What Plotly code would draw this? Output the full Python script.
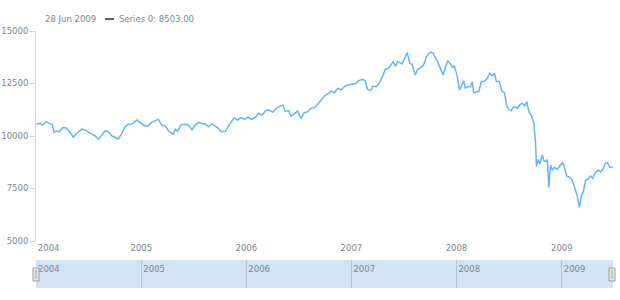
import plotly.graph_objects as go

dates = [
    "2004-01-02", "2004-01-15", "2004-01-24", "2004-02-05", "2004-02-16", "2004-02-26",
    "2004-03-04", "2004-03-13", "2004-03-22", "2004-04-03", "2004-04-14", "2004-04-26",
    "2004-05-10", "2004-05-22", "2004-06-08", "2004-06-19", "2004-07-01", "2004-07-13",
    "2004-07-24", "2004-08-05", "2004-08-17", "2004-08-28", "2004-09-09", "2004-09-20",
    "2004-10-02", "2004-10-13", "2004-10-25", "2004-11-06", "2004-11-17", "2004-11-29",
    "2004-12-16", "2004-12-28", "2005-01-14", "2005-01-26", "2005-02-06", "2005-02-24",
    "2005-03-01", "2005-03-13", "2005-03-25", "2005-04-05", "2005-04-21", "2005-04-29",
    "2005-05-07", "2005-05-18", "2005-06-02", "2005-06-14", "2005-06-26", "2005-07-07",
    "2005-07-19", "2005-07-30", "2005-08-11", "2005-08-22", "2005-09-03", "2005-09-15",
    "2005-09-26", "2005-10-04", "2005-10-19", "2005-11-06", "2005-11-20", "2005-12-01",
    "2005-12-13", "2005-12-25", "2006-01-05", "2006-01-20", "2006-02-04", "2006-02-12",
    "2006-02-24", "2006-03-11", "2006-03-23", "2006-04-03", "2006-04-15", "2006-04-26",
    "2006-05-08", "2006-05-16", "2006-05-28", "2006-06-05", "2006-06-16", "2006-06-28",
    "2006-07-10", "2006-07-21", "2006-08-02", "2006-08-14", "2006-08-25", "2006-09-06",
    "2006-09-21", "2006-10-02", "2006-10-14", "2006-10-22", "2006-11-03", "2006-11-14",
    "2006-11-26", "2006-12-11", "2006-12-22", "2007-01-07", "2007-01-18", "2007-01-26",
    "2007-02-10", "2007-02-18", "2007-02-26", "2007-03-10", "2007-03-17", "2007-03-29",
    "2007-04-09", "2007-04-21", "2007-04-29", "2007-05-10", "2007-05-19", "2007-05-26",
    "2007-06-03", "2007-06-11", "2007-06-26", "2007-07-08", "2007-07-14", "2007-07-23",
    "2007-07-31", "2007-08-11", "2007-08-19", "2007-08-31", "2007-09-09", "2007-09-19",
    "2007-09-27", "2007-10-05", "2007-10-12", "2007-10-20", "2007-10-28", "2007-11-06",
    "2007-11-16", "2007-11-24", "2007-12-02", "2007-12-11", "2007-12-19", "2007-12-25",
    "2008-01-03", "2008-01-12", "2008-01-21", "2008-01-26", "2008-02-01", "2008-02-09",
    "2008-02-19", "2008-02-25", "2008-03-01", "2008-03-11", "2008-03-19", "2008-03-27",
    "2008-04-07", "2008-04-17", "2008-04-26", "2008-05-04", "2008-05-12", "2008-05-19",
    "2008-05-29", "2008-06-08", "2008-06-16", "2008-06-23", "2008-07-01", "2008-07-09",
    "2008-07-18", "2008-07-30", "2008-08-08", "2008-08-17", "2008-08-25", "2008-09-01",
    "2008-09-09", "2008-09-17", "2008-09-26", "2008-10-02", "2008-10-05", "2008-10-11",
    "2008-10-17", "2008-10-25", "2008-10-31", "2008-11-06", "2008-11-12", "2008-11-17",
    "2008-11-23", "2008-11-29", "2008-12-07", "2008-12-16", "2008-12-25", "2009-01-03",
    "2009-01-08", "2009-01-18", "2009-01-29", "2009-02-06", "2009-02-14", "2009-02-24",
    "2009-03-03", "2009-03-10", "2009-03-17", "2009-03-25", "2009-04-02", "2009-04-11",
    "2009-04-18", "2009-04-25", "2009-05-07", "2009-05-16", "2009-05-24", "2009-06-01",
    "2009-06-09", "2009-06-18", "2009-06-28",
]
values = [
    10570, 10600, 10520, 10680, 10600, 10560,
    10180, 10240, 10200, 10400, 10380, 10210,
    9940, 10130, 10330, 10290, 10180, 10080,
    10010, 9840, 10050, 10240, 10200, 10010,
    9940, 9860, 10130, 10440, 10560, 10560,
    10760, 10650, 10480, 10500, 10650, 10760,
    10795, 10520, 10480, 10250, 10080, 10320,
    10210, 10520, 10560, 10520, 10290, 10520,
    10650, 10600, 10570, 10440, 10570, 10470,
    10365, 10210, 10210, 10600, 10870, 10760,
    10870, 10795, 10890, 10795, 10920, 11080,
    11000, 11240, 11210, 11130, 11320, 11400,
    11480, 11160, 11220, 10950, 11040, 11190,
    10840, 11110, 11160, 11320, 11350, 11510,
    11750, 11950, 12030, 12140, 12060, 12270,
    12200, 12380, 12430, 12480, 12510, 12630,
    12700, 12630, 12220, 12160, 12380, 12350,
    12540, 12900, 13180, 13220, 13430, 13540,
    13330, 13540, 13430, 13810, 13970, 13460,
    13410, 12900, 13180, 13270, 13380, 13780,
    13940, 14000, 13940, 13700, 13540, 13220,
    12900, 13270, 13590, 13430, 13270, 13330,
    12900, 12190, 12430, 12630, 12270, 12350,
    12350, 12590, 12060, 12110, 12110, 12590,
    12590, 12750, 12990, 12860, 12990, 12590,
    12590, 12110, 12060, 11480, 11270, 11200,
    11400, 11320, 11480, 11560, 11430, 11630,
    11160, 11000, 10600, 9650, 8540, 8890,
    8670, 9100, 8820, 8780, 8880, 7540,
    8620, 8380, 8510, 8410, 8570, 8730,
    8620, 8100, 8030, 7900, 7590, 7140,
    6600, 7140, 7350, 7900, 7940, 8100,
    7980, 8190, 8380, 8300, 8410, 8700,
    8730, 8510, 8503,
]

y_ticks = [5000, 7500, 10000, 12500, 15000]
y_tick_labels = ["5000", "7500", "10000", "12500", "15000"]
x_tick_dates = ["2004-02-14", "2005-01-01", "2006-01-01", "2007-01-01", "2008-01-01", "2009-01-01"]
x_tick_labels = ["2004", "2005", "2006", "2007", "2008", "2009"]
scroll_tick_dates = ["2004-01-01", "2005-01-01", "2006-01-01", "2007-01-01", "2008-01-01", "2009-01-01"]
header_date = "28 Jun 2009"
series_name = "Series 0"
x_range = ["2004-01-01", "2009-06-28"]

W, H = 620, 300
FONT = "DejaVu Sans"
TXT = "#7c868e"

def px(x):
    return x / W

def py(y):
    return (H - y) / H

fig = go.Figure()
fig.add_trace(go.Scatter(
    x=dates, y=values, mode="lines",
    line=dict(color="#64b5f6", width=1.5),
    hoverinfo="skip", showlegend=False,
))
fig.add_trace(go.Scatter(
    x=[dates[0], dates[-1]], y=[0, 0], mode="lines",
    line=dict(color="rgba(0,0,0,0)", width=0),
    xaxis="x2", yaxis="y2", hoverinfo="skip", showlegend=False,
))

fig.update_layout(
    template="none",
    width=W, height=H,
    margin=dict(l=0, r=0, t=0, b=0, pad=0),
    paper_bgcolor="white", plot_bgcolor="white",
    font=dict(family=FONT, size=8.5, color=TXT),
    xaxis=dict(
        domain=[px(36), px(613)], range=x_range, type="date",
        showgrid=False, zeroline=False, showline=False, ticks="",
        tickmode="array", tickvals=x_tick_dates, ticktext=x_tick_labels,
        tickfont=dict(family=FONT, size=8.5, color=TXT),
        anchor="y", automargin=False,
    ),
    yaxis=dict(
        domain=[py(241), py(31)], range=[5000, 15000],
        showgrid=False, zeroline=False,
        showline=True, linecolor="#cfd3d6", linewidth=1,
        ticks="outside", ticklen=5, tickcolor="#cfd3d6",
        tickmode="array", tickvals=y_ticks, ticktext=y_tick_labels,
        tickfont=dict(family=FONT, size=8.5, color=TXT),
        anchor="x", automargin=False,
    ),
    xaxis2=dict(
        domain=[px(36), px(613)], range=x_range, type="date",
        side="top", anchor="y2",
        showgrid=True, gridcolor="#b9c3cc", gridwidth=1,
        zeroline=False, showline=False, ticks="",
        tickmode="array", tickvals=scroll_tick_dates, ticktext=x_tick_labels,
        ticklabelposition="inside right", ticklabelshift=2,
        tickfont=dict(family=FONT, size=8.5, color=TXT),
        automargin=False,
    ),
    yaxis2=dict(
        domain=[py(288), py(260)], range=[0, 1],
        showgrid=False, zeroline=False, showline=False,
        showticklabels=False, ticks="", anchor="x2", automargin=False,
    ),
)

shapes = []
shapes.append(dict(type="rect", xref="x2 domain", yref="y2 domain",
                   x0=0, x1=1, y0=0, y1=1, layer="below",
                   fillcolor="#d3e2f5", line=dict(width=0)))
for cx in (36, 612):
    shapes.append(dict(type="rect", xref="paper", yref="paper",
                       x0=px(cx - 3), x1=px(cx + 3), y0=py(281), y1=py(268),
                       fillcolor="#e4e6e8", line=dict(color="#9aa0a6", width=1),
                       layer="above"))
    shapes.append(dict(type="line", xref="paper", yref="paper",
                       x0=px(cx), x1=px(cx), y0=py(279), y1=py(270),
                       line=dict(color="#9aa0a6", width=1), layer="above"))
shapes.append(dict(type="line", xref="paper", yref="paper",
                   x0=px(105), x1=px(114), y0=py(19), y1=py(19),
                   line=dict(color="#5b6167", width=2)))
fig.update_layout(shapes=shapes)

fig.add_annotation(x=px(43), y=py(19), xref="paper", yref="paper",
                   text=header_date, showarrow=False, xanchor="left", yanchor="middle",
                   font=dict(family=FONT, size=8.5, color=TXT))
fig.add_annotation(x=px(117), y=py(19), xref="paper", yref="paper",
                   text=f"{series_name}: {values[-1]:.2f}", showarrow=False,
                   xanchor="left", yanchor="middle",
                   font=dict(family=FONT, size=8.5, color=TXT))

fig.write_html("out.html")
